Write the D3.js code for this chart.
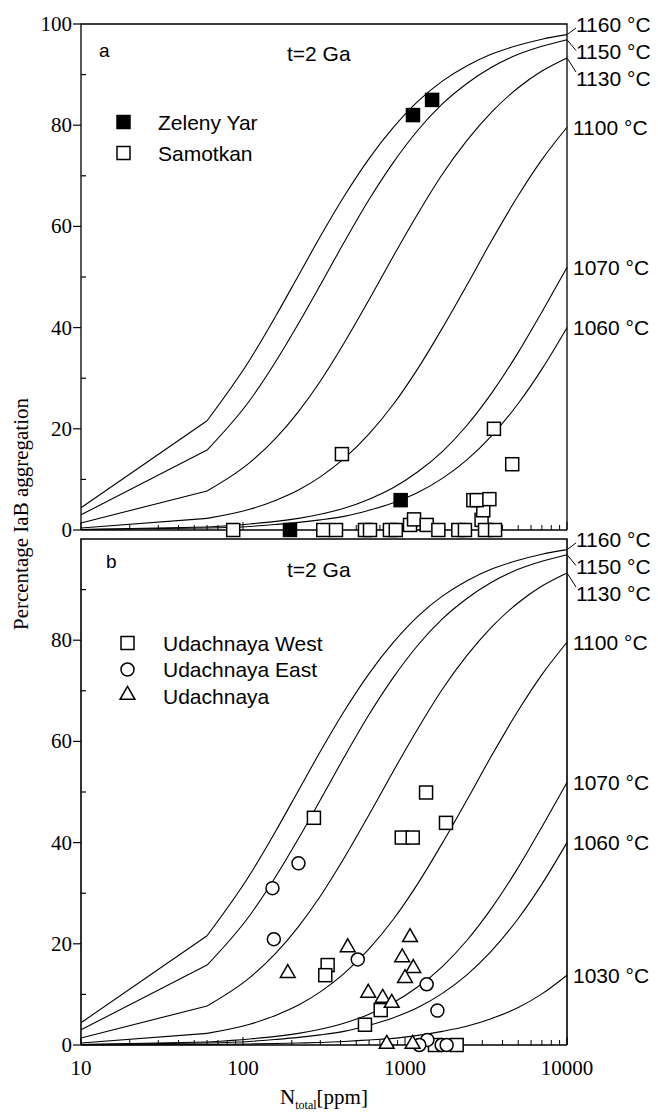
<!DOCTYPE html>
<html>
<head>
<meta charset="utf-8">
<script src="https://cdn.jsdelivr.net/npm/d3@7"></script>
<style>
  body { margin: 0; background: #fff; }
  svg { display: block; }
</style>
</head>
<body>
<svg id="chart" width="658" height="1115"></svg>
<script>
// ---- data ----
const nGrid = [10, 60, 110, 160, 220, 300, 420, 600, 850, 1200, 1700, 2400, 3400, 5000, 7000, 10000];
const curve1160 = [4.4, 21.6, 33.6, 42.4, 50.3, 58.0, 65.9, 73.4, 79.6, 84.7, 88.7, 91.7, 94.0, 95.8, 97.0, 97.9];
const curve1150 = [3.0, 15.8, 25.6, 33.4, 40.8, 48.4, 56.8, 65.3, 72.7, 79.0, 84.2, 88.2, 91.4, 94.0, 95.6, 96.9];
const curve1130 = [1.4, 7.7, 13.3, 18.2, 23.4, 29.4, 36.9, 45.5, 54.2, 62.5, 70.3, 76.9, 82.5, 87.4, 90.7, 93.3];
const curve1100 = [0.4, 2.3, 4.1, 5.9, 7.9, 10.5, 14.1, 19.0, 24.9, 31.9, 39.9, 48.3, 57.0, 66.1, 73.2, 79.6];
const curve1070 = [0.1, 0.6, 1.2, 1.7, 2.3, 3.1, 4.3, 6.1, 8.4, 11.5, 15.5, 20.6, 26.9, 35.1, 43.1, 51.9];
const curve1060 = [0.1, 0.4, 0.7, 1.1, 1.5, 2.0, 2.7, 3.9, 5.4, 7.4, 10.2, 13.8, 18.5, 25.0, 31.8, 40.0];
const curve1030 = [0.0, 0.1, 0.2, 0.3, 0.4, 0.5, 0.7, 1.0, 1.3, 1.9, 2.7, 3.7, 5.2, 7.4, 10.1, 13.8];

// panel a
const zelenyN   = [195, 940, 1120, 1470];
const zelenyVal = [0, 5.9, 82, 85];
const samotN   = [87, 313, 375, 566, 608, 807, 877, 1074, 1137, 1361, 1607, 2134, 2344, 2970, 3042, 2642, 2773, 3318, 3120, 3597, 408, 3540, 4590];
const samotVal = [0, 0, 0, 0, 0, 0, 0, 1.0, 2.1, 1.0, 0, 0, 0, 2.0, 3.9, 5.9, 5.9, 6.1, 0, 0, 15, 20, 13];

// panel b
const westN   = [274, 955, 1116, 1349, 1791, 333, 322, 708, 566, 1531, 2084];
const westVal = [44.9, 41, 41, 49.9, 43.9, 15.8, 13.8, 6.9, 4.0, 0, 0];
const eastN   = [220, 152, 155, 511, 1361, 1585, 1374, 1225, 1683, 1807];
const eastVal = [35.9, 31.0, 20.9, 16.9, 12.0, 6.8, 1.0, 0, 0, 0];
const udaN   = [189, 443, 1074, 961, 1125, 1000, 593, 728, 828, 771, 1114];
const udaVal = [14.0, 19.1, 21.1, 17.1, 15.0, 13.0, 10.1, 9.1, 8.1, 0, 0];

const yTicksA = [0, 20, 40, 60, 80, 100];
const yTicksB = [0, 20, 40, 60, 80];
const xTickLabels = [10, 100, 1000, 10000];

// ---- layout ----
const svg = d3.select('#chart');
const left = 81, right = 567;
const sans = 'Liberation Sans, Arial, sans-serif';
const serif = 'Liberation Serif, Times New Roman, serif';

const x = d3.scaleLog().domain([10, 10000]).range([left, right]);

const curvesA = [
  { t: 1160, v: curve1160, lab: 0, lead: 4 },
  { t: 1150, v: curve1150, lab: 27.5, lead: -1 },
  { t: 1130, v: curve1130, lab: 54, lead: -6 },
  { t: 1100, v: curve1100 },
  { t: 1070, v: curve1070 },
  { t: 1060, v: curve1060 },
];
const curvesB = curvesA.concat([{ t: 1030, v: curve1030 }]);

function drawPanel(cfg) {
  const y = d3.scaleLinear().domain([0, 100]).range([cfg.bottom, cfg.top]);
  const g = svg.append('g');

  // curves: straight first segment, smooth after the kink
  const straight = d3.line().x((d) => x(d[0])).y((d) => y(d[1]));
  const smooth = d3.line().x((d) => x(d[0])).y((d) => y(d[1])).curve(d3.curveMonotoneX);
  cfg.curves.forEach((c) => {
    const pts = nGrid.map((n, i) => [n, c.v[i]]);
    g.append('path')
      .datum(pts.slice(0, 2))
      .attr('fill', 'none').attr('stroke', '#000').attr('stroke-width', 1.1)
      .attr('d', straight);
    g.append('path')
      .datum(pts.slice(1))
      .attr('fill', 'none').attr('stroke', '#000').attr('stroke-width', 1.1)
      .attr('d', smooth);

    const yEnd = y(c.v[c.v.length - 1]);
    let yLab = yEnd;
    let xLab = right + 6;
    if (c.lab !== undefined) {
      yLab = cfg.top + c.lab;
      xLab = right + 9;
      g.append('line')
        .attr('x1', right).attr('y1', yEnd)
        .attr('x2', right + 9).attr('y2', yLab + c.lead)
        .attr('stroke', '#000').attr('stroke-width', 1);
    }
    g.append('text')
      .attr('x', xLab).attr('y', yLab + 7.5)
      .attr('font-family', sans).attr('font-size', 21)
      .text(c.t + ' °C');
  });

  // frame
  g.append('path')
    .attr('d', `M${left},${cfg.bottom}V${cfg.top}H${right}V${cfg.bottom}`)
    .attr('fill', 'none').attr('stroke', '#000').attr('stroke-width', cfg.frameTop || 1.3);
  g.append('line')
    .attr('x1', left).attr('x2', right).attr('y1', cfg.bottom).attr('y2', cfg.bottom)
    .attr('stroke', '#000').attr('stroke-width', 1.3);

  // y axis ticks: majors outside, minors inside
  d3.range(0, 101, 10).forEach((v) => {
    if (v === 100 && !cfg.showTop) return;
    const major = v % 20 === 0;
    g.append('line')
      .attr('x1', major ? left - 8 : left).attr('x2', major ? left : left + 5)
      .attr('y1', y(v)).attr('y2', y(v))
      .attr('stroke', '#000').attr('stroke-width', 1.2);
  });
  g.selectAll('.ylab').data(cfg.yTicks).enter().append('text')
    .attr('x', left - 9).attr('y', (d) => y(d) + 7)
    .attr('text-anchor', 'end')
    .attr('font-family', serif).attr('font-size', 21)
    .text((d) => d);

  // x axis ticks, pointing up
  x.ticks().forEach((n) => {
    const major = Math.abs(Math.log10(n) - Math.round(Math.log10(n))) < 1e-9;
    g.append('line')
      .attr('x1', x(n)).attr('x2', x(n))
      .attr('y1', cfg.bottom).attr('y2', cfg.bottom - (major ? 8 : 5))
      .attr('stroke', '#000').attr('stroke-width', 1);
  });

  // panel letter and title
  g.append('text').attr('x', cfg.letterX).attr('y', cfg.top + cfg.letterDy)
    .attr('font-family', sans).attr('font-size', 19).text(cfg.letter);
  g.append('text').attr('x', 287).attr('y', cfg.top + cfg.titleDy)
    .attr('font-family', sans).attr('font-size', 21).text('t=2 Ga');

  return { g, y };
}

function squares(g, y, ns, vals, fill) {
  g.selectAll(null).data(ns.map((n, i) => [n, vals[i]])).enter().append('rect')
    .attr('x', (d) => x(d[0]) - 6.5).attr('y', (d) => y(d[1]) - 6.5)
    .attr('width', 13).attr('height', 13)
    .attr('fill', fill).attr('stroke', '#000').attr('stroke-width', 1.5);
}
function circles(g, y, ns, vals) {
  g.selectAll(null).data(ns.map((n, i) => [n, vals[i]])).enter().append('circle')
    .attr('cx', (d) => x(d[0])).attr('cy', (d) => y(d[1])).attr('r', 6.5)
    .attr('fill', '#fff').attr('stroke', '#000').attr('stroke-width', 1.5);
}
const tri = d3.symbol().type(d3.symbolTriangle).size(95);
function triangles(g, y, ns, vals) {
  g.selectAll(null).data(ns.map((n, i) => [n, vals[i]])).enter().append('path')
    .attr('d', tri)
    .attr('transform', (d) => `translate(${x(d[0])},${y(d[1]) - 1})`)
    .attr('fill', '#fff').attr('stroke', '#000').attr('stroke-width', 1.5);
}

// ---- panel a ----
const pa = drawPanel({
  top: 24, bottom: 530, curves: curvesA, yTicks: yTicksA, showTop: true,
  letter: 'a', letterX: 99, letterDy: 33, titleDy: 37,
});
squares(pa.g, pa.y, samotN, samotVal, '#fff');
squares(pa.g, pa.y, zelenyN, zelenyVal, '#000');

// legend a
const legA = [['Zeleny Yar', '#000', 122], ['Samotkan', '#fff', 153]];
legA.forEach((l) => {
  pa.g.append('rect').attr('x', 117).attr('y', l[2] - 6.5).attr('width', 13).attr('height', 13)
    .attr('fill', l[1]).attr('stroke', '#000').attr('stroke-width', 1.5);
  pa.g.append('text').attr('x', 158).attr('y', l[2] + 7.5)
    .attr('font-family', sans).attr('font-size', 21).text(l[0]);
});

// ---- panel b ----
const pb = drawPanel({
  top: 539, bottom: 1045, curves: curvesB, yTicks: yTicksB, showTop: false, frameTop: 1.6,
  letter: 'b', letterX: 106, letterDy: 29, titleDy: 38,
});
squares(pb.g, pb.y, westN, westVal, '#fff');
circles(pb.g, pb.y, eastN, eastVal);
triangles(pb.g, pb.y, udaN, udaVal);

// legend b
const legB = [['Udachnaya West', 'sq', 643], ['Udachnaya East', 'ci', 669.5], ['Udachnaya', 'tr', 696]];
legB.forEach((l) => {
  if (l[1] === 'sq') {
    pb.g.append('rect').attr('x', 121).attr('y', l[2] - 6.5).attr('width', 13).attr('height', 13)
      .attr('fill', '#fff').attr('stroke', '#000').attr('stroke-width', 1.5);
  } else if (l[1] === 'ci') {
    pb.g.append('circle').attr('cx', 127.5).attr('cy', l[2]).attr('r', 6.5)
      .attr('fill', '#fff').attr('stroke', '#000').attr('stroke-width', 1.5);
  } else {
    pb.g.append('path').attr('d', tri).attr('transform', `translate(127.5,${l[2] - 1})`)
      .attr('fill', '#fff').attr('stroke', '#000').attr('stroke-width', 1.5);
  }
  pb.g.append('text').attr('x', 163).attr('y', l[2] + 7.5)
    .attr('font-family', sans).attr('font-size', 21).text(l[0]);
});

// x tick labels (bottom panel only)
svg.selectAll('.xlab').data(xTickLabels).enter().append('text')
  .attr('x', (d) => x(d)).attr('y', 1075)
  .attr('text-anchor', 'middle')
  .attr('font-family', serif).attr('font-size', 21)
  .text((d) => d);

// axis titles
const xt = svg.append('text')
  .attr('x', (left + right) / 2).attr('y', 1104)
  .attr('text-anchor', 'middle')
  .attr('font-family', serif).attr('font-size', 21);
xt.append('tspan').text('N');
xt.append('tspan').attr('font-size', 12).attr('dy', 5).text('total');
xt.append('tspan').attr('dy', -5).text('[ppm]');

svg.append('text')
  .attr('transform', 'translate(28,514) rotate(-90)')
  .attr('text-anchor', 'middle')
  .attr('font-family', serif).attr('font-size', 21)
  .text('Percentage IaB aggregation');
</script>
</body>
</html>
